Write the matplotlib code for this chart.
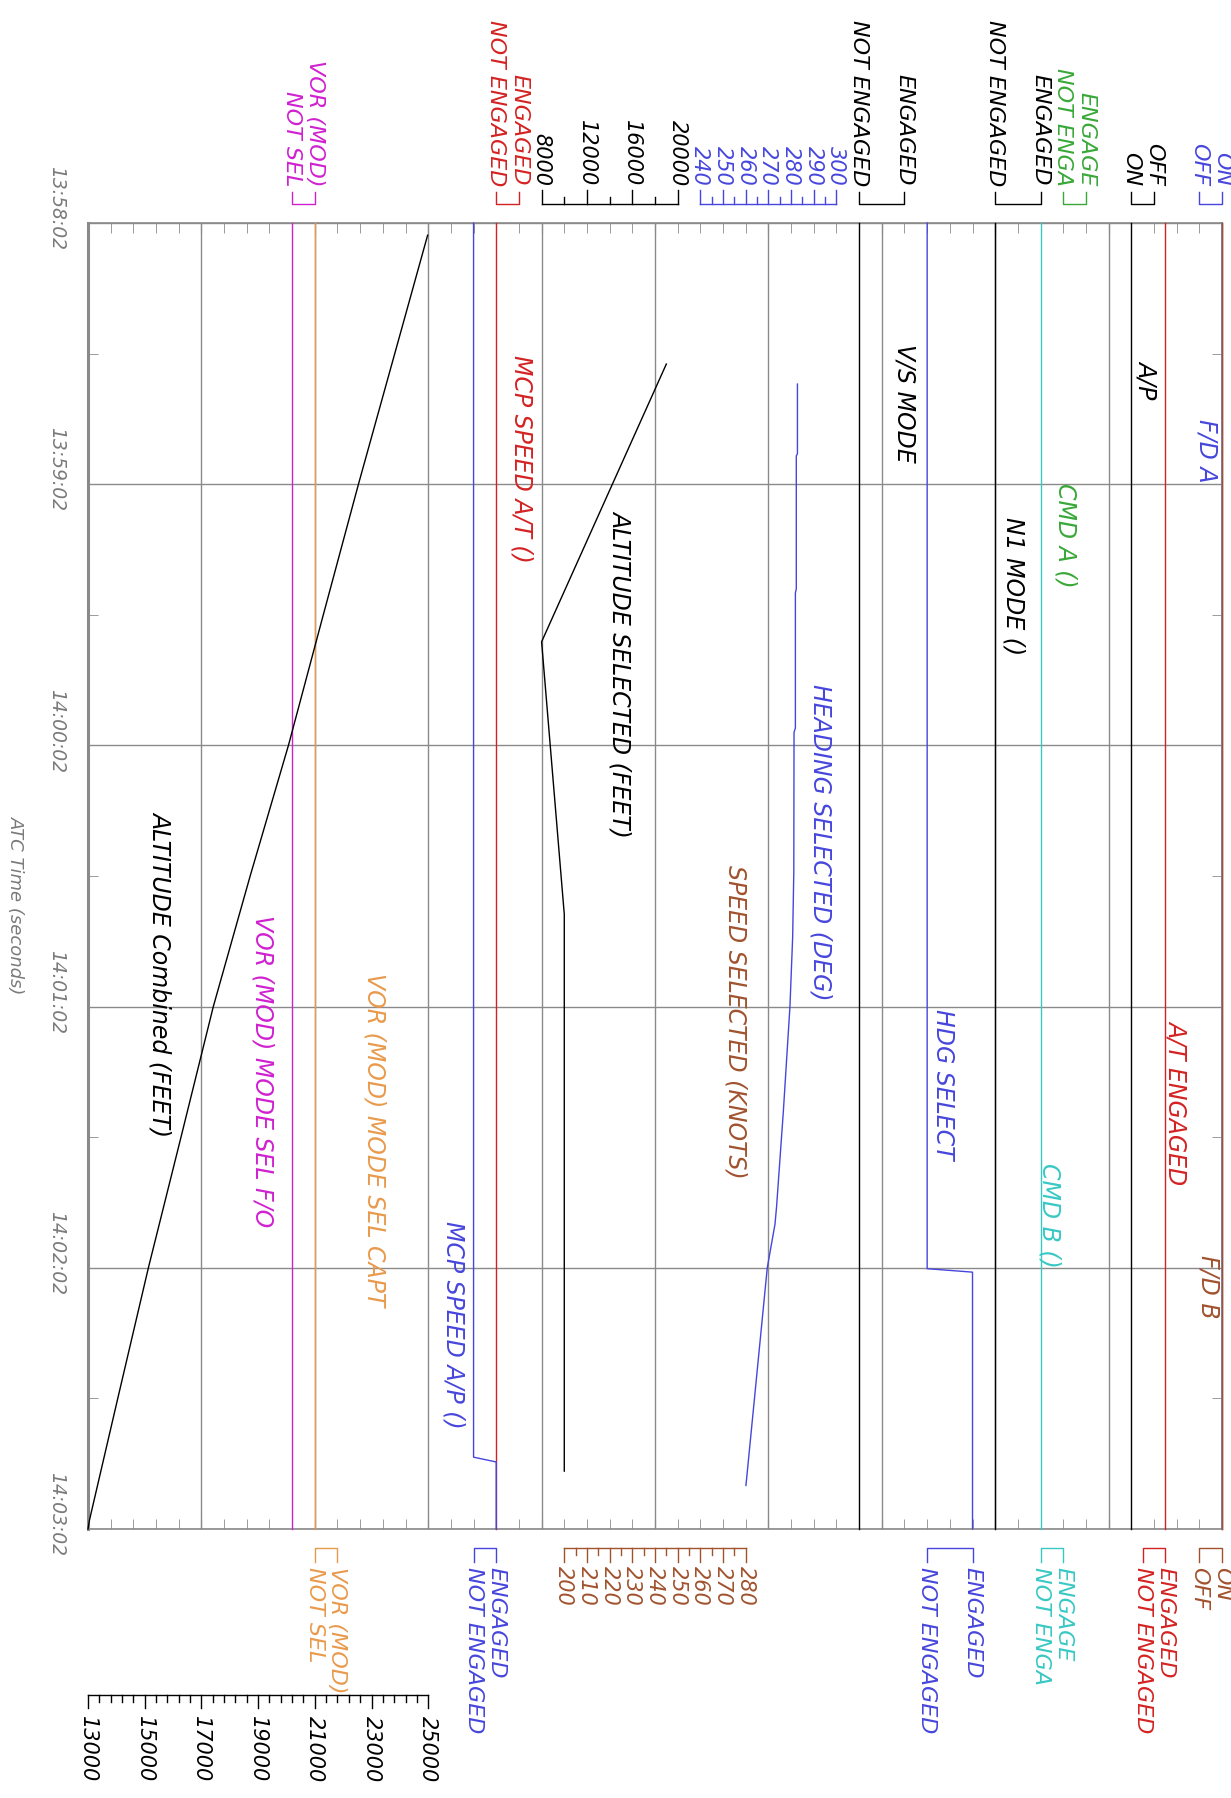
import numpy as np
import matplotlib
matplotlib.use("Agg")
import matplotlib.pyplot as plt
from matplotlib.transforms import Affine2D, blended_transform_factory

# ---------------------------------------------------------------- data
time_ticks = [0, 60, 120, 180, 240, 300]          # seconds after 13:58:02
time_labels = ["13:58:02", "13:59:02", "14:00:02", "14:01:02", "14:02:02", "14:03:02"]
time_minor = [30, 90, 150, 210, 270]

alt_comb_t = [2.8, 30, 60, 90, 120, 150, 180, 210, 240, 270, 298, 300]
alt_comb_ft = [24980, 23820, 22540, 21300, 20070, 18720, 17420, 16280, 15130, 14050, 13050, 13000]
alt_comb_ticks = [13000, 15000, 17000, 19000, 21000, 23000, 25000]

alt_sel_t = [32.4, 96.2, 158.8, 286.7]
alt_sel_ft = [19000, 8000, 10000, 10000]
alt_sel_ticks = [8000, 12000, 16000, 20000]

hdg_t = [37, 53, 53.5, 84, 85, 116, 117, 149, 164, 180, 204, 226, 230, 240, 290]
hdg_deg = [282.8, 282.8, 282.3, 282.3, 281.9, 281.9, 281.3, 281.2, 280.7, 279.5,
           276.6, 273.6, 272.9, 269.5, 260.1]
hdg_ticks = [240, 250, 260, 270, 280, 290, 300]

spd_ticks = [200, 210, 220, 230, 240, 250, 260, 270, 280]

# discrete parameters: 0 = first state, 1 = second state
vor_fo_t, vor_fo = [0, 300], [0, 0]            # NOT SEL
vor_capt_t, vor_capt = [0, 300], [0, 0]        # NOT SEL
mcp_ap_t, mcp_ap = [0, 283.5, 284.6, 300], [0, 0, 1, 1]
mcp_at_t, mcp_at = [0, 300], [0, 0]
vs_t, vs = [0, 300], [0, 0]
hdg_sel_t, hdg_sel = [0, 240.2, 241.0, 300], [0, 0, 1, 1]
n1_t, n1 = [0, 300], [0, 0]
cmd_b_t, cmd_b = [0, 300], [0, 0]
ap_t, ap = [0, 300], [1, 1]
at_t, at = [0, 300], [1, 1]
fda_t, fda = [0, 300], [1, 1]
fdb_t, fdb = [0, 300], [1, 1]

# ---------------------------------------------------------------- style
BLUE = "#4646dc"
RED = "#d42222"
GREEN = "#38a838"
CYAN = "#38c8c4"
BROWN = "#a0522d"
ORANGE = "#e89a4c"
MAGENTA = "#d020d0"
BLACK = "#000000"
GRID = "#8a8a8a"
TGRAY = "#7a7a7a"

W, H, DPI = 1231, 1798, 100
L, R, T, B = 88, 1222, 223, 1529
plt.rcParams["font.family"] = ["DejaVu Sans"]

fig = plt.figure(figsize=(W / DPI, H / DPI), dpi=DPI)
ax = fig.add_axes([L / W, 1 - B / H, (R - L) / W, (B - T) / H])
ax.set_xlim(0, 50)
ax.set_ylim(300, 0)

px = Affine2D().scale(1.0 / W, -1.0 / H).translate(0, 1) + fig.transFigure
tr_top = blended_transform_factory(ax.transData, px)   # x: track units, y: pixels from top
tr_left = blended_transform_factory(px, ax.transData)  # x: pixels, y: seconds

for s in ax.spines.values():
    s.set_color(GRID)
    s.set_linewidth(1.2)
ax.spines["left"].set_linewidth(2.2)
ax.set_xticks(np.arange(0, 51, 5))
ax.set_xticks(np.arange(0, 51, 1), minor=True)
ax.set_yticks(time_ticks)
ax.set_yticks(time_minor, minor=True)
ax.tick_params(axis="x", which="both", direction="in", top=True, bottom=True,
               length=7, color=GRID, labelbottom=False, labeltop=False)
ax.tick_params(axis="y", which="major", length=0, labelleft=False)
ax.tick_params(axis="y", which="minor", direction="in", left=True, right=True,
               length=7, color=GRID, labelleft=False)
ax.grid(which="major", color=GRID, lw=1.0)
ax.set_axisbelow(True)

LW = 1.0

def lin(v0, u0, per):
    return lambda v: u0 + (np.asarray(v, float) - v0) / per

def disc(u_a, u_b):
    return lambda s: u_a + np.asarray(s, float) * (u_b - u_a)

# track scales (layout)
f_alt = lin(13000, 0, 800)
f_asel = lin(8000, 20, 2000)
f_hdg = lin(240, 27, 10)
f_spd = lin(200, 21, 10)
f_vor_fo = disc(9, 10)
f_vor_capt = disc(10, 11)
f_mcp_ap = disc(17, 18)
f_mcp_at = disc(18, 19)
f_vs = disc(34, 36)
f_hdg_sel = disc(37, 39)
f_n1 = disc(40, 42)
f_cmd_a = disc(43, 44)
f_cmd_b = disc(42, 43)
f_ap = disc(47, 46)
f_at = disc(46.5, 47.5)
f_fda = disc(49, 50)
f_fdb = disc(49, 50)

def trace(f, vals, t, color):
    ax.plot(f(vals), t, color=color, lw=LW, clip_on=False, zorder=3)

trace(f_vor_fo, vor_fo, vor_fo_t, MAGENTA)
trace(f_vor_capt, vor_capt, vor_capt_t, ORANGE)
trace(f_mcp_at, mcp_at, mcp_at_t, RED)
trace(f_mcp_ap, mcp_ap, mcp_ap_t, BLUE)
trace(f_vs, vs, vs_t, BLACK)
trace(f_hdg_sel, hdg_sel, hdg_sel_t, BLUE)
trace(f_n1, n1, n1_t, BLACK)
trace(f_cmd_b, cmd_b, cmd_b_t, CYAN)
trace(f_ap, ap, ap_t, BLACK)
trace(f_at, at, at_t, RED)
trace(f_fda, fda, fda_t, BLUE)
trace(f_fdb, fdb, fdb_t, BROWN)
trace(f_alt, alt_comb_ft, alt_comb_t, BLACK)
trace(f_asel, alt_sel_ft, alt_sel_t, BLACK)
trace(f_hdg, hdg_deg, hdg_t, BLUE)

# ---------------------------------------------------------------- labels in plot
FS_IN = 17
inner = [
    ("F/D A", 49.3, 45, BLUE),
    ("A/P", 46.7, 31.5, BLACK),
    ("CMD A ()", 43.1, 59.7, GREEN),
    ("N1 MODE ()", 40.8, 67.5, BLACK),
    ("V/S MODE", 36.0, 27.8, BLACK),
    ("HEADING SELECTED (DEG)", 32.3, 105.9, BLUE),
    ("SPEED SELECTED (KNOTS)", 28.55, 147.5, BROWN),
    ("ALTITUDE SELECTED (FEET)", 23.47, 65.9, BLACK),
    ("MCP SPEED A/T ()", 19.1, 30.4, RED),
    ("HDG SELECT", 37.7, 180.5, BLUE),
    ("A/T ENGAGED", 48.0, 183, RED),
    ("CMD B ()", 42.4, 216, CYAN),
    ("F/D B", 49.4, 237, BROWN),
    ("VOR (MOD) MODE SEL CAPT", 12.63, 172.3, ORANGE),
    ("VOR (MOD) MODE SEL F/O", 7.7, 159, MAGENTA),
    ("ALTITUDE Combined (FEET)", 3.2, 135, BLACK),
    ("MCP SPEED A/P ()", 16.1, 229.2, BLUE),
]
for txt, u, t0, c in inner:
    ax.text(u, t0, txt, rotation=270, ha="center", va="top", color=c,
            fontsize=FS_IN, style="italic", zorder=4)

# time axis labels
for t, lab in zip(time_ticks, time_labels):
    ax.text(57, t - 3.4, lab, transform=tr_left, rotation=270, ha="center",
            va="center", color=TGRAY, fontsize=13.5, style="italic", clip_on=False)
fig.text(16 / W, 1 - 905 / H, "ATC Time (seconds)", rotation=270, ha="center",
         va="center", color=TGRAY, fontsize=13, style="italic")

# ---------------------------------------------------------------- header scales
FS_H = 16
FS_N = 15

def seg(xs, ys, color):
    ax.plot(xs, ys, color=color, lw=LW, transform=tr_top, clip_on=False)

def top_states(ua, ub, la, lb, color):
    seg([ua, ua, ub, ub], [192, 204, 204, 192], color)
    for u, lab in ((ua, la), (ub, lb)):
        ax.text(u, 186, lab, transform=tr_top, rotation=270, ha="center", va="bottom",
                color=color, fontsize=FS_H, style="italic", clip_on=False)

def bot_states(ua, ub, la, lb, color):
    seg([ua, ua, ub, ub], [1562, 1548, 1548, 1562], color)
    for u, lab in ((ua, la), (ub, lb)):
        ax.text(u, 1567, lab, transform=tr_top, rotation=270, ha="center", va="top",
                color=color, fontsize=FS_H, style="italic", clip_on=False)

# top
top_states(f_vor_fo(0), f_vor_fo(1), "NOT SEL", "VOR (MOD)", MAGENTA)
top_states(f_mcp_at(0), f_mcp_at(1), "NOT ENGAGED", "ENGAGED", RED)
top_states(f_vs(0), f_vs(1), "NOT ENGAGED", "ENGAGED", BLACK)
top_states(f_n1(0), f_n1(1), "NOT ENGAGED", "ENGAGED", BLACK)
top_states(f_cmd_a(0), f_cmd_a(1), "NOT ENGA", "ENGAGE", GREEN)
top_states(f_ap(1), f_ap(0), "ON", "OFF", BLACK)
top_states(f_fda(0), f_fda(1), "OFF", "ON", BLUE)

# altitude selected scale (top)
seg([f_asel(alt_sel_ticks[0]), f_asel(alt_sel_ticks[-1])], [204, 204], BLACK)
for v in range(alt_sel_ticks[0], alt_sel_ticks[-1] + 1, 2000):
    major = v in alt_sel_ticks
    seg([f_asel(v)] * 2, [204, 190 if major else 197], BLACK)
for v in alt_sel_ticks:
    ax.text(f_asel(v), 186, str(v), transform=tr_top, rotation=270, ha="center",
            va="bottom", color=BLACK, fontsize=FS_N, style="italic", clip_on=False)

# heading scale (top)
seg([f_hdg(hdg_ticks[0]), f_hdg(hdg_ticks[-1])], [204, 204], BLUE)
for v in range(hdg_ticks[0], hdg_ticks[-1] + 1, 5):
    major = v in hdg_ticks
    seg([f_hdg(v)] * 2, [204, 190 if major else 197], BLUE)
for v in hdg_ticks:
    ax.text(f_hdg(v), 186, str(v), transform=tr_top, rotation=270, ha="center",
            va="bottom", color=BLUE, fontsize=FS_N, style="italic", clip_on=False)

# bottom
bot_states(f_vor_capt(0), f_vor_capt(1), "NOT SEL", "VOR (MOD)", ORANGE)
bot_states(f_mcp_ap(0), f_mcp_ap(1), "NOT ENGAGED", "ENGAGED", BLUE)
bot_states(f_hdg_sel(0), f_hdg_sel(1), "NOT ENGAGED", "ENGAGED", BLUE)
bot_states(f_cmd_b(0), f_cmd_b(1), "NOT ENGA", "ENGAGE", CYAN)
bot_states(f_at(0), f_at(1), "NOT ENGAGED", "ENGAGED", RED)
bot_states(f_fdb(0), f_fdb(1), "OFF", "ON", BROWN)

# speed selected scale (bottom)
seg([f_spd(spd_ticks[0]), f_spd(spd_ticks[-1])], [1548, 1548], BROWN)
for v in range(spd_ticks[0], spd_ticks[-1] + 1, 5):
    major = v in spd_ticks
    seg([f_spd(v)] * 2, [1548, 1562 if major else 1555], BROWN)
for v in spd_ticks:
    ax.text(f_spd(v), 1566, str(v), transform=tr_top, rotation=270, ha="center",
            va="top", color=BROWN, fontsize=FS_N, style="italic", clip_on=False)

# altitude combined scale (bottom)
seg([f_alt(alt_comb_ticks[0]), f_alt(alt_comb_ticks[-1])], [1695, 1695], BLACK)
for v in range(alt_comb_ticks[0], alt_comb_ticks[-1] + 1, 400):
    major = v in alt_comb_ticks
    seg([f_alt(v)] * 2, [1695, 1708 if major else 1702], BLACK)
for v in alt_comb_ticks:
    ax.text(f_alt(v), 1716, str(v), transform=tr_top, rotation=270, ha="center",
            va="top", color=BLACK, fontsize=FS_N, style="italic", clip_on=False)

fig.savefig("out.png", dpi=DPI)
